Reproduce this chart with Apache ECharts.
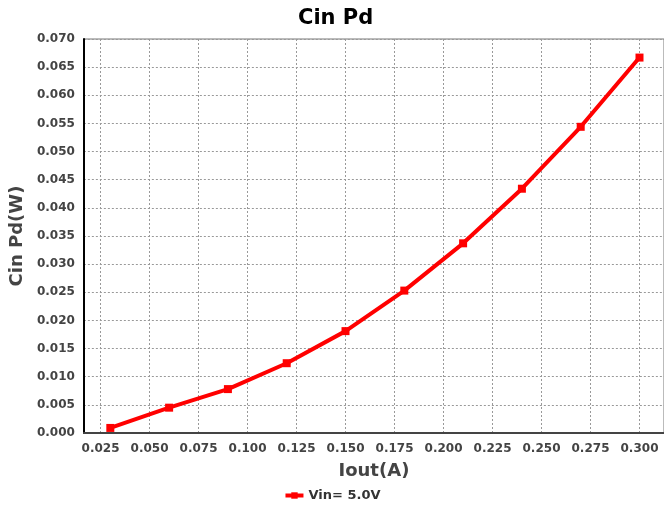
<!DOCTYPE html>
<html>
<head>
<meta charset="utf-8">
<script src="https://cdn.jsdelivr.net/npm/echarts@6/dist/echarts.min.js"></script>
<style>html,body{margin:0;padding:0;background:#fff;}#c{width:664px;height:515px;}</style>
</head>
<body>
<div id="c"></div>
<script>
var iout = [0.03, 0.06, 0.09, 0.12, 0.15, 0.18, 0.21, 0.24, 0.27, 0.30];
var cinPd = [0.0009, 0.0045, 0.0078, 0.0124, 0.0181, 0.0253, 0.0337, 0.0434, 0.0544, 0.0667];
var xTicks = [0.025, 0.050, 0.075, 0.100, 0.125, 0.150, 0.175, 0.200, 0.225, 0.250, 0.275, 0.300];
var seriesName = 'Vin= 5.0V';

var chart = echarts.init(document.getElementById('c'));
var font = '"DejaVu Sans", "Liberation Sans", Arial, sans-serif';
chart.setOption({
  animation: false,
  backgroundColor: '#fff',
  title: {
    text: 'Cin Pd', left: 293, top: 3,
    textStyle: { fontFamily: font, fontWeight: 'bold', fontSize: 21, color: '#000' }
  },
  legend: {
    bottom: 8, left: 'center', itemWidth: 18, itemHeight: 8,
    data: [{ name: seriesName }],
    lineStyle: { width: 4 },
    textStyle: { fontFamily: font, fontWeight: 'bold', fontSize: 13, color: '#333' },
    itemGap: 2
  },
  grid: { left: 81, right: 0, top: 39, bottom: 82, containLabel: false,
    show: true, borderColor: '#777', borderWidth: 1 },
  xAxis: {
    type: 'value', min: 0.0165, max: 0.3125,
    name: 'Iout(A)', nameLocation: 'middle', nameGap: 29,
    nameTextStyle: { fontFamily: font, fontWeight: 'bold', fontSize: 18, color: '#444' },
    axisLine: { show: true, lineStyle: { color: '#444', width: 2 } },
    axisTick: { show: false, customValues: xTicks },
    axisLabel: { customValues: xTicks, margin: 10, fontFamily: font, fontWeight: 'bold', fontSize: 12, color: '#444',
      formatter: function (v) { return v.toFixed(3); } },
    splitLine: { show: true, lineStyle: { color: '#999', type: [2, 2], width: 1 } }
  },
  yAxis: {
    type: 'value', min: 0, max: 0.07, interval: 0.005,
    name: 'Cin Pd(W)', nameLocation: 'middle', nameGap: 54, nameRotate: 90,
    nameTextStyle: { fontFamily: font, fontWeight: 'bold', fontSize: 18, color: '#444' },
    axisLine: { show: true, lineStyle: { color: '#000', width: 2 } },
    axisTick: { show: false },
    axisLabel: { margin: 9, fontFamily: font, fontWeight: 'bold', fontSize: 12, color: '#444',
      formatter: function (v) { return v.toFixed(3); } },
    splitLine: { show: true, lineStyle: { color: '#999', type: [2, 2], width: 1 } }
  },
  series: [{
    name: seriesName, type: 'line',
    data: iout.map(function (x, i) { return [x, cinPd[i]]; }),
    smooth: false,
    symbol: 'rect', symbolSize: 8,
    lineStyle: { color: '#ff0000', width: 4 },
    itemStyle: { color: '#ff0000' }
  }]
});
</script>
</body>
</html>
